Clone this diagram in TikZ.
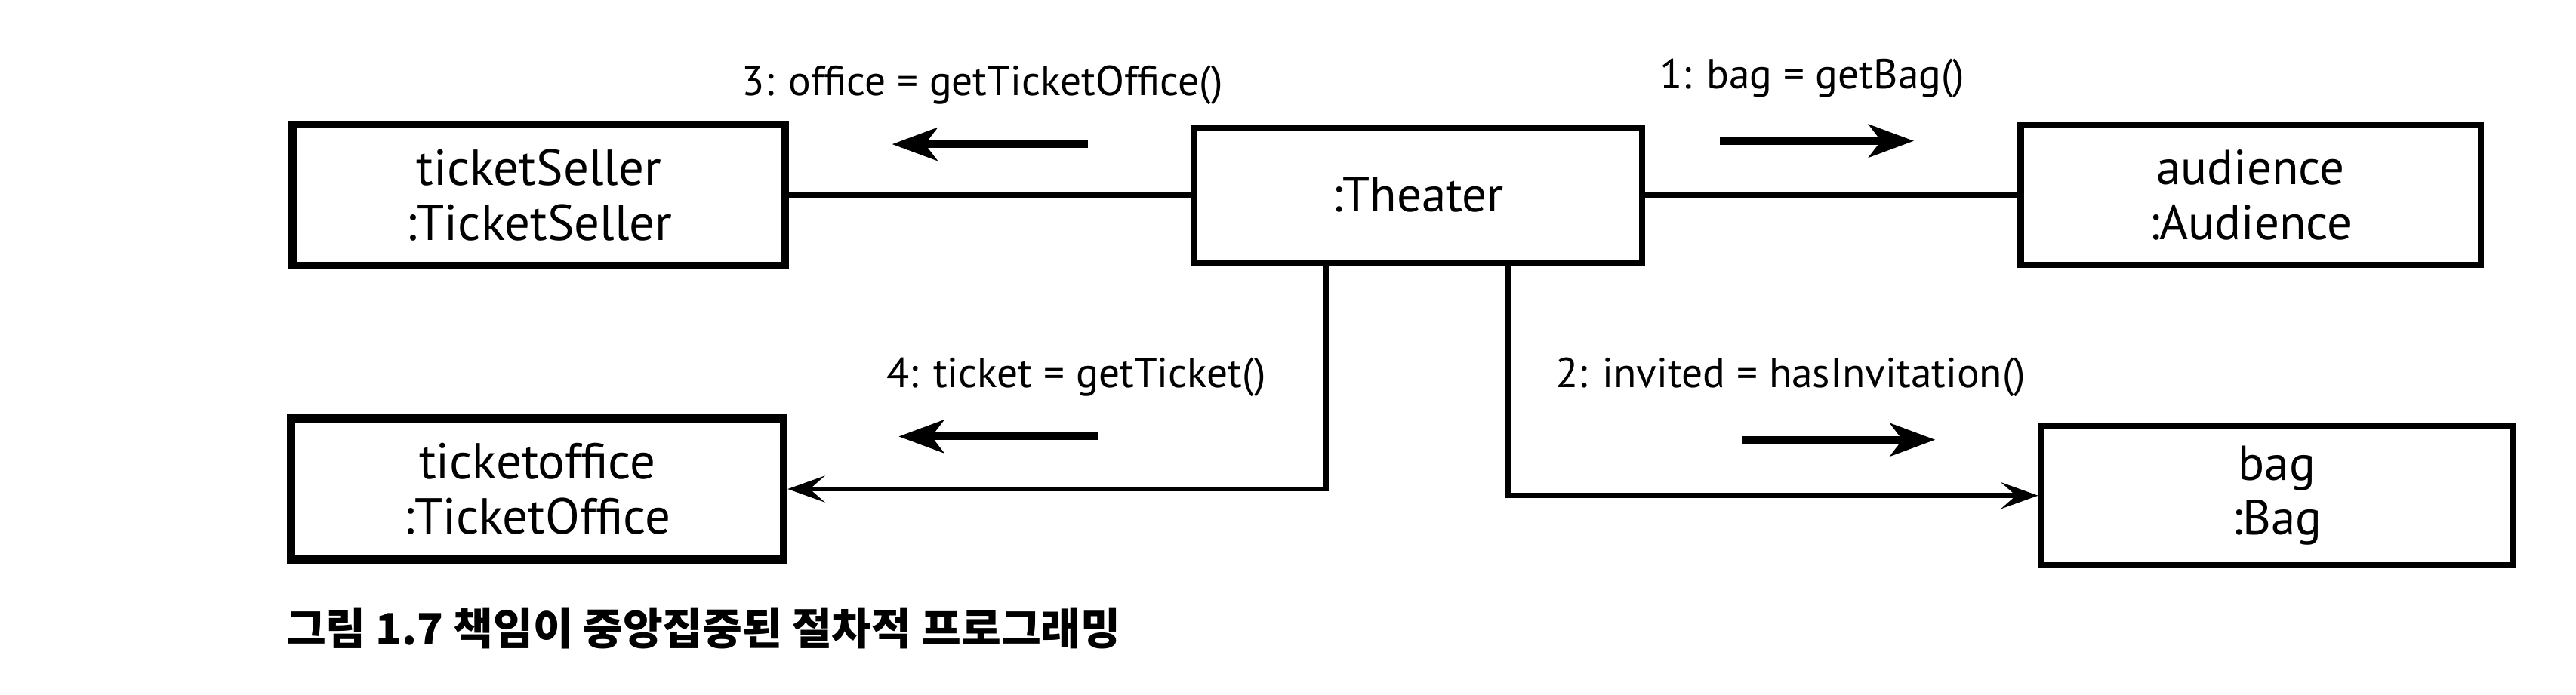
\documentclass[tikz,border=0pt]{standalone}
\usepackage{fontspec}
\setmainfont{PT Sans}
\newfontfamily\kofont{Noto Sans CJK KR}
\usetikzlibrary{arrows.meta}
\tikzstyle{obj} = [rectangle, minimum width=6cm, minimum height=1.72cm, align=center, draw=black, line width=2.2pt, font=\fontsize{17}{19}\selectfont]
\tikzstyle{msg} = [font=\fontsize{14.5}{17}\selectfont]
\tikzstyle{call} = [line width=2.6pt, -{Stealth[length=0.55cm, width=0.4cm, inset=0.15cm]}]
\tikzstyle{link} = [line width=1.8pt]
\tikzstyle{arrow} = [link, -{Stealth[length=0.45cm, width=0.32cm, inset=0.18cm]}]

\begin{document}
\begin{tikzpicture}[x=0.02cm, y=0.02cm]
					\useasboundingbox (0,0) rectangle (1568,422.8);
					\node[obj, line width=2.8pt, font=\fontsize{17.5}{19}\selectfont] (seller) at (328,304) {ticketSeller\\:TicketSeller};
					\node[obj, minimum width=5.46cm, minimum height=1.64cm] (theater) at (863,304) {:Theater};
					\node[obj, minimum width=5.6cm, minimum height=1.7cm] (audience) at (1370,304) {audience\\:Audience};
					\node[obj, line width=2.8pt, font=\fontsize{17.5}{19}\selectfont] (office) at (327,125) {ticketoffice\\:TicketOffice};
					\node[obj, minimum width=5.74cm, minimum height=1.7cm] (bag) at (1386,121) {bag\\:Bag};
					\node[msg] (m3) at (598,371) {3: office = getTicketOffice()};
					\node[msg] (m1) at (1103,375) {1: bag = getBag()};
					\node[msg] (m4) at (655,193) {4: ticket = getTicket()};
					\node[msg] (m2) at (1090,193) {2: invited = hasInvitation()};
					\node[anchor=west, font=\kofont\bfseries\fontsize{15}{17}\selectfont] (caption) at (168,40) {그림 1.7 책임이 중앙집중된 절차적 프로그래밍};
					\coordinate (c3a) at (662,335); \coordinate (c3b) at (543,335);
					\coordinate (c1a) at (1047,337); \coordinate (c1b) at (1165,337);
					\coordinate (c4a) at (668,157); \coordinate (c4b) at (547,157);
					\coordinate (c2a) at (1060,155); \coordinate (c2b) at (1178,155);
					\draw[link] (theater) -- (seller);
					\draw[link] (theater) -- (audience);
					\draw[arrow] ([xshift=-1.12cm]theater.south) |- (office.east);
					\draw[arrow] ([xshift=1.1cm]theater.south) |- (bag.west);
					\draw[call] (c3a) -- (c3b);
					\draw[call] (c1a) -- (c1b);
					\draw[call] (c4a) -- (c4b);
					\draw[call] (c2a) -- (c2b);
					\end{tikzpicture}
\end{document}
